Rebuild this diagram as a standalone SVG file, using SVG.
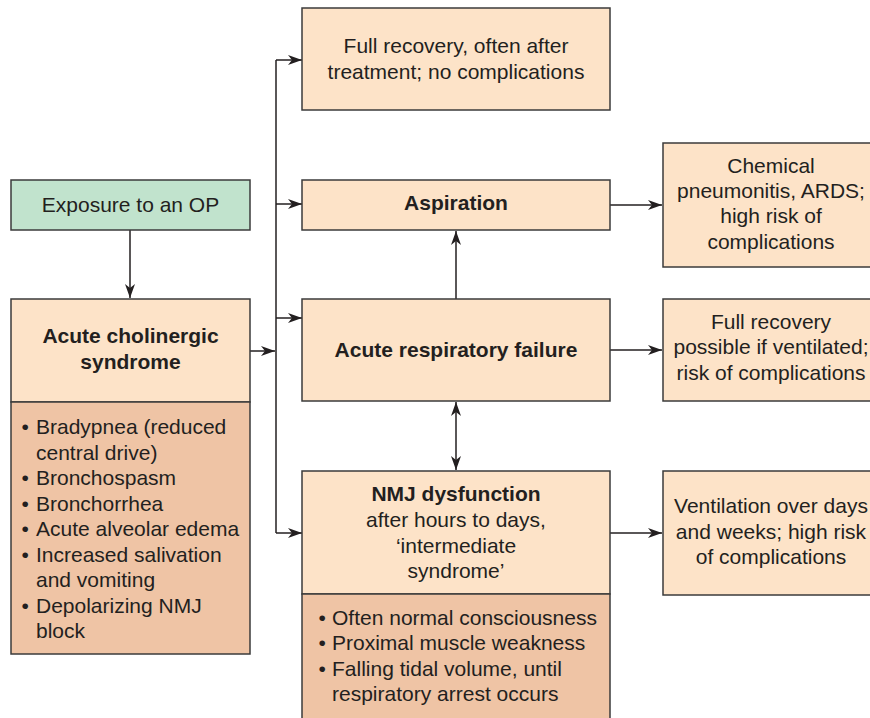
<svg xmlns="http://www.w3.org/2000/svg" width="870" height="718" viewBox="0 0 870 718">
  <style>
    .box { fill: #fde3c8; stroke: #3b3b3b; stroke-width: 1.5; }
    .list { fill: #efc4a5; stroke: #3b3b3b; stroke-width: 1.5; }
    .start { fill: #c1e3cd; stroke: #3b3b3b; stroke-width: 1.5; }
    text { font-family: "Liberation Sans", Arial, sans-serif; font-size: 21px; fill: #231f20; }
    .c { text-anchor: middle; }
    .b { font-weight: bold; }
    .wire { fill: none; stroke: #231f20; stroke-width: 1.5; }
  </style>
  <defs>
    <marker id="head" markerUnits="userSpaceOnUse" markerWidth="15" markerHeight="11" viewBox="0 0 15 11" refX="14" refY="5.5" orient="auto">
      <path d="M0,0.5 L14,5.5 L0,10.5 L4,5.5 Z" fill="#231f20"/>
    </marker>
    <marker id="tail" markerUnits="userSpaceOnUse" markerWidth="15" markerHeight="11" viewBox="0 0 15 11" refX="14" refY="5.5" orient="auto-start-reverse">
      <path d="M0,0.5 L14,5.5 L0,10.5 L4,5.5 Z" fill="#231f20"/>
    </marker>
  </defs>

  <!-- connectors -->
  <g id="connectors">
    <path class="wire" d="M130,230 V298" marker-end="url(#head)"/>
    <path class="wire" d="M250,351 H275" marker-end="url(#head)"/>
    <path class="wire" d="M276,60 V533"/>
    <path class="wire" d="M276,60 H302" marker-end="url(#head)"/>
    <path class="wire" d="M276,204 H302" marker-end="url(#head)"/>
    <path class="wire" d="M276,318 H302" marker-end="url(#head)"/>
    <path class="wire" d="M276,533 H302" marker-end="url(#head)"/>
    <path class="wire" d="M456,299 V231" marker-end="url(#head)"/>
    <path class="wire" d="M456,402 V470" marker-start="url(#tail)" marker-end="url(#head)"/>
    <path class="wire" d="M610,205 H662" marker-end="url(#head)"/>
    <path class="wire" d="M610,350 H662" marker-end="url(#head)"/>
    <path class="wire" d="M610,533 H662" marker-end="url(#head)"/>
  </g>

  <g id="exposure">
    <rect class="start" x="11" y="180" width="239" height="50"/>
    <text class="c" x="130.5" y="212">Exposure to an OP</text>
  </g>

  <g id="cholinergic">
    <rect class="box" x="11" y="299" width="239" height="103"/>
    <text class="c b" x="130.5" y="343">Acute cholinergic</text>
    <text class="c b" x="130.5" y="369">syndrome</text>
    <rect class="list" x="11" y="402" width="239" height="252"/>
    <text x="21.5" y="434">•</text><text x="36" y="434">Bradypnea (reduced</text>
    <text x="36" y="459.5">central drive)</text>
    <text x="21.5" y="485">•</text><text x="36" y="485">Bronchospasm</text>
    <text x="21.5" y="510.5">•</text><text x="36" y="510.5">Bronchorrhea</text>
    <text x="21.5" y="536">•</text><text x="36" y="536">Acute alveolar edema</text>
    <text x="21.5" y="561.5">•</text><text x="36" y="561.5">Increased salivation</text>
    <text x="36" y="587">and vomiting</text>
    <text x="21.5" y="612.5">•</text><text x="36" y="612.5">Depolarizing NMJ</text>
    <text x="36" y="638">block</text>
  </g>

  <g id="full-recovery">
    <rect class="box" x="302" y="8" width="308" height="102"/>
    <text class="c" x="456" y="53">Full recovery, often after</text>
    <text class="c" x="456" y="79">treatment; no complications</text>
  </g>

  <g id="aspiration">
    <rect class="box" x="302" y="180" width="308" height="50"/>
    <text class="c b" x="456" y="210">Aspiration</text>
  </g>

  <g id="respiratory-failure">
    <rect class="box" x="302" y="299" width="308" height="102"/>
    <text class="c b" x="456" y="357">Acute respiratory failure</text>
  </g>

  <g id="nmj">
    <rect class="box" x="302" y="471" width="308" height="123"/>
    <text class="c b" x="456" y="501">NMJ dysfunction</text>
    <text class="c" x="456" y="527">after hours to days,</text>
    <text class="c" x="456" y="553">‘intermediate</text>
    <text class="c" x="456" y="578">syndrome’</text>
    <rect class="list" x="302" y="594" width="308" height="130"/>
    <text x="318.5" y="625">•</text><text x="332" y="625">Often normal consciousness</text>
    <text x="318.5" y="650">•</text><text x="332" y="650">Proximal muscle weakness</text>
    <text x="318.5" y="676">•</text><text x="332" y="676">Falling tidal volume, until</text>
    <text x="332" y="701">respiratory arrest occurs</text>
  </g>

  <g id="pneumonitis">
    <rect class="box" x="663" y="143" width="220" height="124"/>
    <text class="c" x="771" y="173">Chemical</text>
    <text class="c" x="771" y="198">pneumonitis, ARDS;</text>
    <text class="c" x="771" y="223">high risk of</text>
    <text class="c" x="771" y="249">complications</text>
  </g>

  <g id="ventilated-recovery">
    <rect class="box" x="663" y="299" width="220" height="102"/>
    <text class="c" x="771" y="329">Full recovery</text>
    <text class="c" x="771" y="354">possible if ventilated;</text>
    <text class="c" x="771" y="380">risk of complications</text>
  </g>

  <g id="ventilation">
    <rect class="box" x="663" y="471" width="220" height="124"/>
    <text class="c" x="771" y="513">Ventilation over days</text>
    <text class="c" x="771" y="539">and weeks; high risk</text>
    <text class="c" x="771" y="564">of complications</text>
  </g>
</svg>
